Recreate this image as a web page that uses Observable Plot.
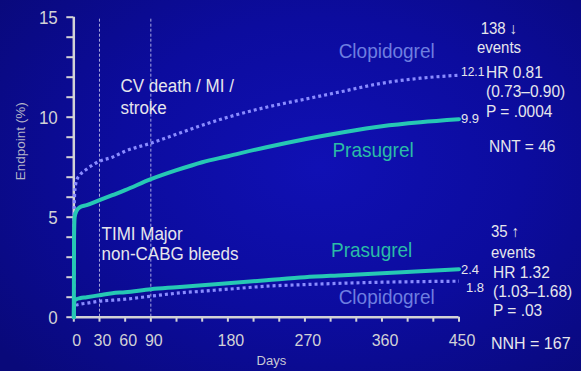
<!DOCTYPE html>
<html>
<head>
<meta charset="utf-8">
<script src="https://cdn.jsdelivr.net/npm/d3@7"></script>
<script src="https://cdn.jsdelivr.net/npm/@observablehq/plot@0.6"></script>
<style>
  html, body { margin: 0; padding: 0; }
  body {
    width: 581px; height: 371px; overflow: hidden;
    background: radial-gradient(ellipse 70% 80% at 55% 45%, #1010b4 0%, #0c0c9e 50%, #09097a 100%);
    font-family: "Liberation Sans", Arial, sans-serif;
  }
</style>
</head>
<body>
<div id="chart"></div>
<script>
// Kaplan–Meier style cumulative event curves (%), by day since randomisation
const days = [0, 0.3, 1, 3, 7, 15, 30, 45, 60, 90, 120, 150, 180, 225, 270, 315, 360, 405, 450];
const clopidogrelEfficacy = [0, 4.5, 6.2, 6.8, 7.1, 7.4, 7.8, 8.0, 8.3, 8.7, 9.15, 9.6, 10.0, 10.5, 10.9, 11.3, 11.7, 11.95, 12.1];
const prasugrelEfficacy   = [0, 4.0, 5.0, 5.3, 5.5, 5.6, 5.85, 6.1, 6.35, 6.9, 7.35, 7.75, 8.05, 8.5, 8.9, 9.25, 9.55, 9.75, 9.9];
const prasugrelBleeding   = [0, 0.6, 0.85, 0.9, 0.95, 1.0, 1.1, 1.2, 1.25, 1.4, 1.5, 1.6, 1.7, 1.85, 2.0, 2.1, 2.2, 2.3, 2.4];
const clopidogrelBleeding = [0, 0.3, 0.5, 0.6, 0.65, 0.7, 0.8, 0.85, 0.9, 1.05, 1.2, 1.3, 1.4, 1.55, 1.63, 1.7, 1.75, 1.78, 1.8];

// Axis ticks and labels
const yTicks = d3.range(0, 16);
const yTickLabels = [0, 5, 10, 15];
const xTicks = d3.range(0, 451, 30);
const xTickLabels = [0, 30, 60, 90, 180, 270, 360, 450];
const landmarkDays = [30, 90];

// Annotation text
const efficacyHeading = "138 ↓\nevents";
const efficacyStats = "HR 0.81\n(0.73–0.90)\nP = .0004";
const efficacyNNT = "NNT = 46";
const bleedingHeading = "35 ↑\nevents";
const bleedingStats = "HR 1.32\n(1.03–1.68)\nP = .03";
const bleedingNNH = "NNH = 167";

const drugs = ["Clopidogrel", "Prasugrel"];

const TEAL = "#26c8b4";
const LAVENDER = "#8a8cff";
const AXIS = "#d2d2d6";
const TEXT = "#e6e6ec";
const STRETCH = 1.05; // glyphs are drawn slightly taller than wide

const toRows = (values, drug, endpoint) => days.map((d, i) => ({day: d, value: values[i], drug, endpoint}));
const rows = [
  ...toRows(clopidogrelEfficacy, "Clopidogrel", "efficacy"),
  ...toRows(prasugrelEfficacy, "Prasugrel", "efficacy"),
  ...toRows(prasugrelBleeding, "Prasugrel", "bleeding"),
  ...toRows(clopidogrelBleeding, "Clopidogrel", "bleeding")
];
const clop = rows.filter(r => r.drug === "Clopidogrel");
const pras = rows.filter(r => r.drug === "Prasugrel");
const last = (arr) => arr[arr.length - 1];

const endLabel = (values, dy, dx, size) =>
  Plot.text([last(values)], {x: () => last(days), y: d => d, text: d => d.toFixed(1),
    textAnchor: "start", dx, dy, fontSize: size, fill: TEXT});

const FONT = "Liberation Sans, Arial, sans-serif";
const lh = (px, size) => px / size / STRETCH;

const chart = Plot.plot({
  width: 581,
  height: 371,
  marginLeft: 73.3,
  marginRight: 122.5,
  marginTop: 16.7,
  marginBottom: 54.3,
  x: {domain: [0, 450]},
  y: {domain: [0, 15]},
  style: {background: "transparent", fontFamily: FONT, overflow: "visible"},
  marks: [
    // landmark analysis cut-points
    Plot.ruleX(landmarkDays, {y1: 0, y2: 15, stroke: "#c4c4ec", strokeWidth: 1, strokeDasharray: "3,2", strokeOpacity: 0.85}),

    // axes
    Plot.axisY(yTicks, {tickFormat: () => "", label: null, tickSize: 7, stroke: AXIS, strokeWidth: 2}),
    Plot.axisX(xTicks, {tickFormat: () => "", label: null, tickSize: 5, stroke: AXIS, strokeWidth: 2}),
    Plot.ruleX([0], {y1: 0, y2: 15, stroke: AXIS, strokeWidth: 2.5}),
    Plot.ruleY([0], {x1: 0, x2: 450, stroke: AXIS, strokeWidth: 2.5}),
    Plot.text(yTickLabels, {y: d => d, frameAnchor: "left", textAnchor: "end", dx: -16, dy: 1,
      text: d => String(d), fontSize: 17, fill: AXIS}),
    Plot.text(xTickLabels, {x: d => d, frameAnchor: "bottom", dx: 3, dy: 29,
      text: d => String(d), fontSize: 16, fill: AXIS}),
    Plot.text(["Endpoint (%)"], {frameAnchor: "left", rotate: -90, dx: -53, dy: 13, fontSize: 13.5, fill: "#b4b4c8"}),
    Plot.text(["Days"], {frameAnchor: "bottom", dx: 5, dy: 48, fontSize: 13, fill: "#c8c8d4"}),

    // curves
    Plot.line(clop, {x: "day", y: "value", z: "endpoint", curve: "monotone-x",
      stroke: LAVENDER, strokeWidth: 3.2, strokeDasharray: "3,3", strokeLinecap: "butt"}),
    Plot.line(pras, {x: "day", y: "value", z: "endpoint", curve: "monotone-x",
      stroke: TEAL, strokeWidth: 4, strokeLinejoin: "round"}),

    // end-of-follow-up values
    endLabel(clopidogrelEfficacy, -3, 2, 12),
    endLabel(prasugrelEfficacy, -1, 2, 13),
    endLabel(prasugrelBleeding, 0, 2, 13),
    endLabel(clopidogrelBleeding, 6, 7, 13),

    // curve names
    Plot.text([drugs[0]], {x: 365.5, y: 13.28, fontSize: 19, fill: "#6e7ee0"}),
    Plot.text([drugs[1]], {x: 349.6, y: 8.34, fontSize: 19, fill: "#2bbca6"}),
    Plot.text([drugs[1]], {x: 348, y: 3.34, fontSize: 19, fill: "#2bbca6"}),
    Plot.text([drugs[0]], {x: 365.5, y: 0.99, fontSize: 19, fill: "#6e7ee0"}),

    // endpoint names
    Plot.text(["CV death / MI /\nstroke"], {x: 54.6, y: 11.085, textAnchor: "start", lineHeight: lh(22, 17), fontSize: 17, fill: TEXT}),
    Plot.text(["TIMI Major\nnon-CABG bleeds"], {x: 32.4, y: 3.685, textAnchor: "start", lineHeight: lh(20.5, 17), fontSize: 17, fill: TEXT}),

    // statistics
    Plot.text([efficacyHeading], {x: 450, y: 14.01, dx: 40, lineHeight: lh(19, 15), fontSize: 15, fill: TEXT}),
    Plot.text([efficacyStats], {x: 450, y: 11.31, dx: 27, textAnchor: "start", lineHeight: lh(19.5, 15.5), fontSize: 15.5, fill: TEXT}),
    Plot.text([efficacyNNT], {x: 450, y: 8.535, dx: 30, textAnchor: "start", fontSize: 15.5, fill: TEXT}),
    Plot.text([bleedingHeading], {x: 450, y: 3.81, dx: 32, textAnchor: "start", lineHeight: lh(21, 15), fontSize: 15, fill: TEXT}),
    Plot.text([bleedingStats], {x: 450, y: 1.335, dx: 34, textAnchor: "start", lineHeight: lh(19, 15.5), fontSize: 15.5, fill: TEXT}),
    Plot.text([bleedingNNH], {x: 450, y: -1.315, dx: 32, textAnchor: "start", fontSize: 16, fill: TEXT})
  ]
});

// stretch every horizontal label vertically about its own anchor point
chart.querySelectorAll("text").forEach(t => {
  const tr = t.getAttribute("transform") || "";
  if (tr.includes("rotate")) return;
  t.setAttribute("transform", `${tr} scale(1,${STRETCH})`);
});

document.getElementById("chart").appendChild(chart);
</script>
</body>
</html>
